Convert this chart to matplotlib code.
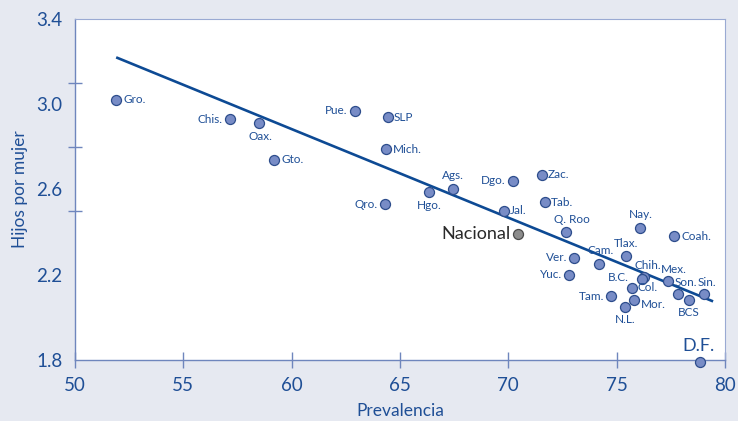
import matplotlib
matplotlib.use("Agg")
import matplotlib.pyplot as plt

# ---- data ----
states = ["Gro.", "Chis.", "Oax.", "Gto.", "Pue.", "SLP", "Mich.", "Qro.", "Hgo.", "Ags.",
          "Dgo.", "Jal.", "Zac.", "Tab.", "Q. Roo", "Ver.", "Yuc.", "Cam.", "Tlax.", "Nay.",
          "Coah.", "Chih.", "B.C.", "Col.", "Mor.", "N.L.", "Tam.", "Mex.", "Son.", "BCS",
          "Sin.", "D.F."]
prevalencia = [51.9, 57.15, 58.5, 59.2, 62.9, 64.45, 64.35, 64.3, 66.35, 67.45,
               70.2, 69.8, 71.55, 71.7, 72.65, 73.05, 72.8, 74.2, 75.45, 76.1,
               77.65, 76.25, 76.15, 75.7, 75.8, 75.4, 74.75, 77.35, 77.85, 78.35,
               79.05, 78.85]
hijos = [3.02, 2.93, 2.91, 2.74, 2.97, 2.94, 2.79, 2.53, 2.59, 2.60,
         2.64, 2.50, 2.67, 2.54, 2.40, 2.28, 2.20, 2.25, 2.29, 2.42,
         2.38, 2.19, 2.18, 2.14, 2.08, 2.05, 2.10, 2.17, 2.11, 2.08,
         2.11, 1.79]
nacional_x = [70.45]
nacional_y = [2.39]
trend_x = [51.9, 79.45]
trend_y = [3.22, 2.075]
x_ticks = [50, 55, 60, 65, 70, 75, 80]
y_ticklabels = [1.8, 2.2, 2.6, 3.0, 3.4]
y_tickmarks = [1.8, 2.2, 2.5, 2.8, 3.1, 3.4]

# ---- label placement (offsets in px, alignment) ----
place = {
    "Gro.": (7, 0, "left", "center"), "Chis.": (-7, 0, "right", "center"),
    "Oax.": (1, -8, "center", "top"), "Gto.": (7, 0, "left", "center"),
    "Pue.": (-7, 0, "right", "center"), "SLP": (6, 0, "left", "center"),
    "Mich.": (7, 0, "left", "center"), "Qro.": (-7, 0, "right", "center"),
    "Hgo.": (0, -8, "center", "top"), "Ags.": (0, 8, "center", "bottom"),
    "Dgo.": (-7, 0, "right", "center"), "Jal.": (6, 0, "left", "center"),
    "Zac.": (6, 0, "left", "center"), "Tab.": (6, 0, "left", "center"),
    "Q. Roo": (6, 7, "center", "bottom"), "Ver.": (-7, 0, "right", "center"),
    "Yuc.": (-7, 0, "right", "center"), "Cam.": (1, 8, "center", "bottom"),
    "Tlax.": (0, 7, "center", "bottom"), "Nay.": (0, 8, "center", "bottom"),
    "Coah.": (7, 0, "left", "center"), "Chih.": (4, 6, "center", "bottom"),
    "B.C.": (-13, 2, "right", "center"), "Col.": (6, 0, "left", "center"),
    "Mor.": (7, -4, "left", "center"), "N.L.": (0, -7, "center", "top"),
    "Tam.": (-7, 0, "right", "center"), "Mex.": (6, 6, "center", "bottom"),
    "Son.": (7, 6, "center", "bottom"), "BCS": (0, -7, "center", "top"),
    "Sin.": (3, 6, "center", "bottom"), "D.F.": (-2, 8, "center", "bottom"),
}

BG = "#e6e9f1"
TXT = "#1f4f96"
SPINE = "#6f86bd"
FILL = "#788cc6"
EDGE = "#2d4d8c"
LINE = "#0d4a94"
FONT = ["Lato", "DejaVu Sans"]

plt.rcParams["font.family"] = FONT
fig = plt.figure(figsize=(7.38, 4.21), dpi=100, facecolor=BG)
ax = fig.add_axes([75 / 738, 1 - 360 / 421, 650 / 738, 341 / 421])
ax.set_facecolor("white")
ax.set_xlim(50, 80)
ax.set_ylim(1.8, 3.4)

ax.plot(trend_x, trend_y, color=LINE, lw=1.9, zorder=2, solid_capstyle="butt")
ax.scatter(prevalencia, hijos, s=52, facecolor=FILL, edgecolor=EDGE, linewidth=0.9,
           zorder=3, clip_on=False)
ax.scatter(nacional_x, nacional_y, s=52, facecolor="#8c8c8c", edgecolor="#4a4a4a",
           linewidth=0.9, zorder=3)

pt = 0.72
for name, x, y in zip(states, prevalencia, hijos):
    dx, dy, ha, va = place[name]
    big = name == "D.F."
    ax.annotate(name, (x, y), xytext=(dx * pt, dy * pt), textcoords="offset points",
                ha=ha, va=va, color=TXT, fontsize=13 if big else 8.5, annotation_clip=False)
ax.annotate("Nacional", (nacional_x[0], nacional_y[0]), xytext=(-7 * pt, 0),
            textcoords="offset points", ha="right", va="center", color="#2a2a2a",
            fontsize=13)

# axes styling
for s in ["left", "bottom"]:
    ax.spines[s].set_color(SPINE)
    ax.spines[s].set_linewidth(1.0)
for s in ["top", "right"]:
    ax.spines[s].set_color("#9aaad3")
    ax.spines[s].set_linewidth(0.8)

ax.set_xticks(x_ticks)
ax.set_xticklabels([str(v) for v in x_ticks])
ax.tick_params(axis="x", direction="inout", length=12, width=1.0, color=SPINE,
               labelsize=13.5, labelcolor=TXT, pad=6)
ax.set_yticks(y_ticklabels)
ax.set_yticklabels([f"{v:.1f}" for v in y_ticklabels])
ax.tick_params(axis="y", which="major", length=0, labelsize=13.5, labelcolor=TXT, pad=9)
ax.set_yticks(y_tickmarks, minor=True)
ax.tick_params(axis="y", which="minor", direction="inout", length=10, width=1.0,
               color=SPINE)
ax.tick_params(axis="x", which="minor", length=0)

ax.set_xlabel("Prevalencia", color=TXT, fontsize=12.5, labelpad=7)
ax.set_ylabel("Hijos por mujer", color=TXT, fontsize=12.5, labelpad=6)

fig.savefig("out.png", dpi=100, facecolor=BG)
